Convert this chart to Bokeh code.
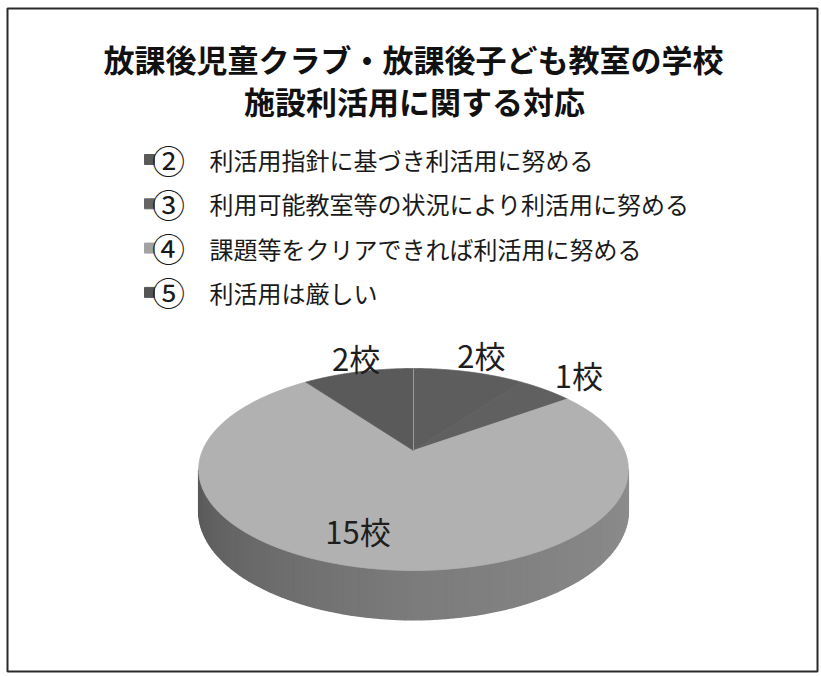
import numpy as np
from bokeh.plotting import figure
from bokeh.models import Range1d
from bokeh.core.properties import value
from bokeh.embed import file_html
from bokeh.resources import INLINE

# ---------------- data ----------------
title_lines = ["放課後児童クラブ・放課後子ども教室の学校", "施設利活用に関する対応"]
legend_marks = ["②", "③", "④", "⑤"]
legend_labels = [
    "利活用指針に基づき利活用に努める",
    "利用可能教室等の状況により利活用に努める",
    "課題等をクリアできれば利活用に努める",
    "利活用は厳しい",
]
counts = [2, 1, 15, 2]
unit = "校"

# ---------------- styles / layout ----------------
slice_colors = ["#5d5d5d", "#606060", "#b1b1b1", "#5a5a5a"]
legend_colors = ["#5a5a5a", "#646464", "#a2a2a2", "#555555"]
FONT = "Noto Sans CJK JP"
W, H_PX = 821, 676
CX, CY = 413.0, 450.0   # pie apex (screen px)
R, B, D = 211.0, 97.4, 5.32  # radius, vertical scale, perspective distance
THICK = 40.0
label_radius = [1.28, 1.30, 0.72, 1.22]
label_shift_x = [0, 0, -28, 8]

p = figure(width=W, height=H_PX, output_backend="svg", toolbar_location=None,
           x_range=Range1d(0, W), y_range=Range1d(H_PX, 0), min_border=0)
p.axis.visible = False
p.grid.visible = False
p.outline_line_color = None
p.background_fill_color = "white"
p.border_fill_color = "white"


def proj(theta_deg, k=1.0):
    t = np.radians(theta_deg)
    u = k * np.sin(t)
    v = -k * np.cos(t)
    s = D / (D - v)
    return CX + R * u * s, CY + B * v * s, s


# outer frame
p.quad(left=[7], right=[817], top=[8], bottom=[671], fill_color=None,
       line_color="#2a2a2a", line_width=2)

# ---------------- side of the pie (visible front) ----------------
total = float(sum(counts))
angles = np.cumsum([0] + [c / total * 360.0 for c in counts])
theta_l = np.degrees(np.arccos(-1.0 / D))  # widest points
a0, a1 = theta_l, 360.0 - theta_l
n = 90
ts = np.linspace(a0, a1, n + 1)
xs, ys, cols = [], [], []
c_left, c_mid, c_right = np.array([0x8e, 0x8e, 0x8e]), np.array([0x7c, 0x7c, 0x7c]), np.array([0x58, 0x58, 0x58])
for i in range(n):
    tA, tB = ts[i], ts[i + 1]
    xA, yA, sA = proj(tA)
    xB, yB, sB = proj(tB)
    xs.append([xA, xB, xB, xA])
    ys.append([yA, yB, yB + THICK * sB, yA + THICK * sA])
    f = 1 - (i + 0.5) / n  # 0 at right side, 1 at left side
    if f > 0.5:
        c = c_mid + (c_left - c_mid) * (f - 0.5) * 2
    else:
        c = c_right + (c_mid - c_right) * f * 2
    cols.append("#%02x%02x%02x" % tuple(int(v) for v in c))
p.patches(xs=xs, ys=ys, fill_color=cols, line_color=cols, line_width=1.5)

# ---------------- top face slices ----------------
sxs, sys_ = [], []
for i in range(len(counts)):
    th = np.linspace(angles[i], angles[i + 1], 120)
    px, py, _ = proj(th)
    sxs.append([CX] + list(px))
    sys_.append([CY] + list(py))
p.patches(xs=sxs, ys=sys_, fill_color=slice_colors, line_color=slice_colors, line_width=0.8)
# faint divider at the 12 o'clock boundary
tx, ty, _ = proj(angles[0])
p.line(x=[CX, tx], y=[CY, ty], line_color="#9a9a9a", line_width=1)

# ---------------- data labels ----------------
lx, ly, lt = [], [], []
for i, c in enumerate(counts):
    mid = (angles[i] + angles[i + 1]) / 2
    x, y, _ = proj(mid, label_radius[i])
    lx.append(x + label_shift_x[i])
    ly.append(y)
    lt.append(f"{c}{unit}")
p.text(x=lx, y=ly, text=lt, text_font=value(FONT), text_font_size="31px",
       text_align="center", text_baseline="middle", text_color="#1e1e1e")

# ---------------- title ----------------
p.text(x=[413, 414], y=[58, 100], text=title_lines, text_font=value(FONT),
       text_font_size="31px", text_font_style="bold", text_align="center",
       text_baseline="middle", text_color="#111111")

# ---------------- legend ----------------
ly0, ldy = 159.0, 44.3
leg_y = [ly0 + i * ldy for i in range(len(legend_labels))]
p.rect(x=[149] * 4, y=leg_y, width=10, height=10, fill_color=legend_colors,
       line_color=legend_colors)
p.text(x=[168] * 4, y=leg_y, text=legend_marks, text_font=value(FONT),
       text_font_size="33px", text_align="center", text_baseline="middle",
       text_color="#1a1a1a")
p.text(x=[209] * 4, y=leg_y, text=legend_labels, text_font=value(FONT),
       text_font_size="24px", text_align="left", text_baseline="middle",
       text_color="#1a1a1a")

open("out.html", "w").write(file_html(p, INLINE))
